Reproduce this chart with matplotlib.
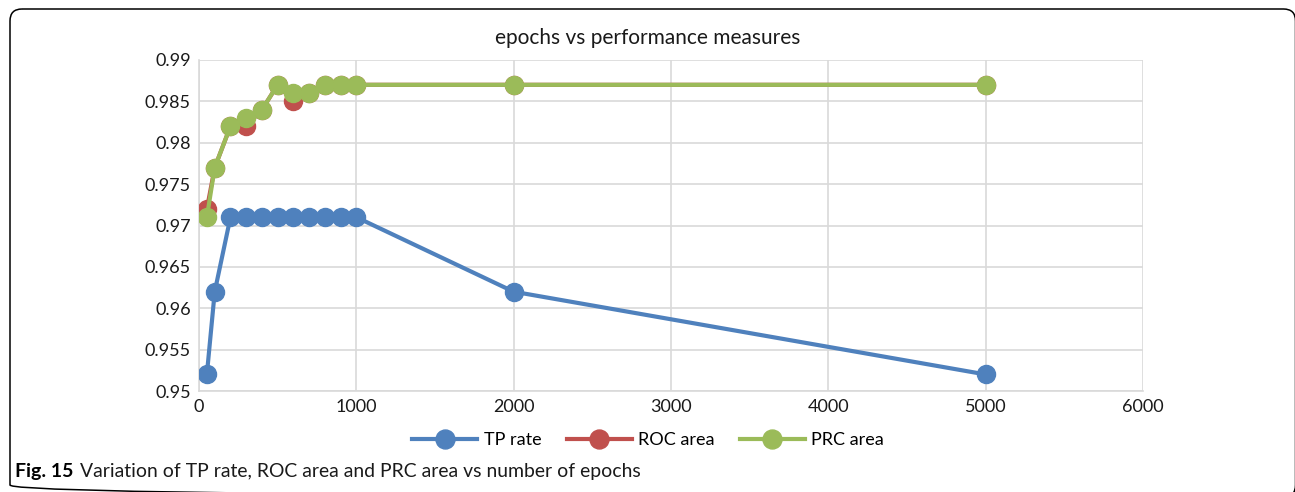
import matplotlib.pyplot as plt
from matplotlib.patches import FancyBboxPatch

# epochs and measured values
epochs = [50, 100, 200, 300, 400, 500, 600, 700, 800, 900, 1000, 2000, 5000]
tp_rate = [0.952, 0.962, 0.971, 0.971, 0.971, 0.971, 0.971, 0.971, 0.971, 0.971, 0.971, 0.962, 0.952]
roc_area = [0.972, 0.977, 0.982, 0.982, 0.984, 0.987, 0.985, 0.986, 0.987, 0.987, 0.987, 0.987, 0.987]
prc_area = [0.971, 0.977, 0.982, 0.983, 0.984, 0.987, 0.986, 0.986, 0.987, 0.987, 0.987, 0.987, 0.987]

W, H = 1295, 492
fig = plt.figure(figsize=(W / 100, H / 100), dpi=100)
font = 'Lato'

# pixel-space overlay for the rounded figure frame (runs off the right and bottom edges)
bg = fig.add_axes([0, 0, 1, 1])
bg.set_xlim(0, W)
bg.set_ylim(H, 0)
bg.axis('off')
bg.add_patch(FancyBboxPatch((10, 9), 1285.5, 488, boxstyle='round,pad=0,rounding_size=12',
                            fill=False, edgecolor='black', linewidth=1.1, clip_on=False))

ax = fig.add_axes([199 / W, 101 / H, 944 / W, 331 / H])
ax.plot(epochs, tp_rate, color='#4F81BD', lw=3, marker='o', ms=13, label='TP rate', zorder=3)
ax.plot(epochs, roc_area, color='#C0504D', lw=3, marker='o', ms=13, label='ROC area', zorder=4)
ax.plot(epochs, prc_area, color='#9BBB59', lw=3, marker='o', ms=13, label='PRC area', zorder=5)

ax.set_xlim(0, 6000)
ax.set_ylim(0.95, 0.99)
ax.set_xticks(range(0, 7000, 1000))
ax.set_yticks([0.95, 0.955, 0.96, 0.965, 0.97, 0.975, 0.98, 0.985, 0.99])
ax.set_yticklabels(['0.95', '0.955', '0.96', '0.965', '0.97', '0.975', '0.98', '0.985', '0.99'])
ax.grid(True, color='#d9d9d9', lw=1.2)
ax.set_axisbelow(True)
for side in ['top', 'right']:
    ax.spines[side].set_visible(False)
for side in ['left', 'bottom']:
    ax.spines[side].set_color('#d9d9d9')
    ax.spines[side].set_linewidth(1.2)
ax.tick_params(length=0, labelsize=13, pad=6)
for lab in ax.get_xticklabels() + ax.get_yticklabels():
    lab.set_fontfamily(font)
    lab.set_color('#1a1a1a')

fig.text(648 / W, 1 - 38 / H, 'epochs vs performance measures', ha='center', va='center',
         fontsize=15, family=font, color='#1a1a1a')

fig.legend(loc='center', bbox_to_anchor=(648 / W, 1 - 440 / H), ncol=3, frameon=False,
           prop={'family': font, 'size': 13}, handlelength=3.6, columnspacing=1.4,
           handletextpad=0.35, markerscale=1.05)

# caption: bold label followed by the description
renderer = fig.canvas.get_renderer()
fig_lab = fig.text(15 / W, 1 - 471 / H, 'Fig. 15', ha='left', va='center', fontsize=14,
                   family=font, weight='bold')
x_end = fig_lab.get_window_extent(renderer).x1
desc = fig.text((x_end + 7) / W, 1 - 471 / H,
                'Variation of TP rate, ROC area and PRC area vs number of epochs',
                ha='left', va='center', fontsize=14, family=font, color='#1a1a1a')
ext = desc.get_window_extent(renderer)
desc.set_fontsize(14 * (643 - x_end - 7) / ext.width)

fig.savefig('out.png', dpi=100)
